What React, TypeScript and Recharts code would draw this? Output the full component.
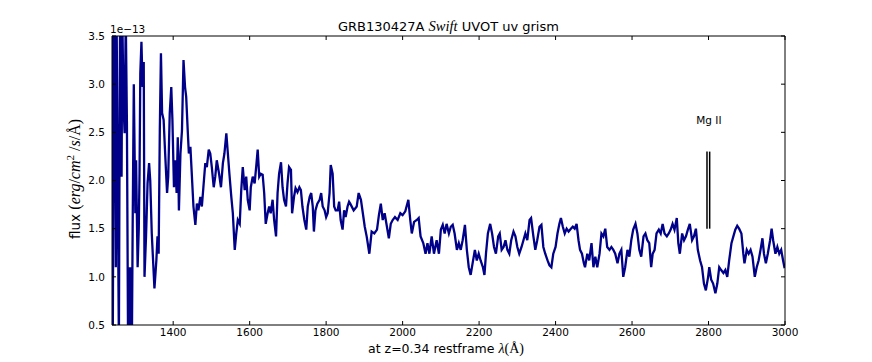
import React from 'react';
import { LineChart, Line, XAxis, YAxis, ReferenceLine, ReferenceDot } from 'recharts';

// rest-frame wavelength (Angstrom)
const wavelength = [
  1240, 1242, 1245, 1248, 1250, 1252, 1255, 1258, 1261, 1263, 1265, 1267, 1270, 1273, 1276, 1279, 1282, 1285, 1288, 1290,
  1292, 1294, 1297, 1301, 1303, 1307, 1310, 1312, 1314, 1317, 1320, 1323, 1325,
  1329, 1333, 1337, 1340, 1344, 1349, 1351, 1356, 1359, 1362, 1365, 1368, 1371, 1375, 1379, 1384, 1387, 1391, 1395, 1398,
  1402, 1405, 1409, 1412, 1415, 1419, 1423, 1427, 1431, 1434, 1438, 1441, 1445, 1449, 1453, 1458, 1462, 1466, 1471, 1475,
  1479, 1484, 1488, 1493, 1497, 1501, 1506, 1510, 1514, 1520, 1525, 1530, 1534, 1539, 1543, 1547, 1552, 1556, 1561, 1565,
  1569, 1574, 1578, 1582, 1587, 1591, 1595, 1600, 1603, 1608, 1613, 1617, 1621, 1625, 1629, 1634, 1638, 1642, 1647, 1651,
  1655, 1660, 1664, 1669, 1673, 1677, 1682, 1686, 1690, 1695, 1699, 1703, 1708, 1711, 1716, 1720, 1725, 1730, 1734, 1738,
  1743, 1748, 1752, 1757, 1761, 1765, 1768, 1772, 1777, 1783, 1787, 1791, 1796, 1800, 1804, 1809, 1812, 1817, 1821, 1825,
  1830, 1834, 1838, 1843, 1847, 1851, 1856, 1860,
  1863, 1872, 1880, 1885, 1891, 1896, 1901, 1906, 1913, 1919, 1926, 1933, 1938, 1943, 1948, 1953, 1959, 1964, 1969, 1974,
  1980, 1987, 1994, 2000, 2007, 2015, 2020, 2024, 2030, 2037, 2042, 2047, 2054, 2060, 2065, 2070, 2076, 2082, 2089, 2095,
  2100, 2105, 2110, 2115, 2121, 2126, 2131, 2136, 2142, 2147, 2152, 2157, 2163, 2168, 2173, 2178, 2183, 2189, 2194, 2199,
  2204, 2210, 2214, 2218, 2223, 2229, 2234, 2239, 2244, 2250, 2254, 2259, 2264, 2269, 2274, 2279, 2284, 2290, 2295, 2300,
  2305, 2311, 2316, 2321, 2326, 2332, 2336, 2342, 2347, 2352, 2358, 2363, 2368, 2373, 2379, 2384, 2389, 2394, 2400, 2405,
  2410, 2414, 2419, 2424, 2429, 2434, 2440, 2445, 2450, 2455, 2460, 2464, 2469, 2474,
  2477, 2483, 2488, 2494, 2499, 2504, 2509, 2515, 2520, 2525, 2530, 2535, 2541, 2546, 2551, 2556, 2562, 2567, 2572, 2577,
  2582, 2588, 2593, 2598, 2603, 2609, 2614, 2619, 2624, 2630, 2635, 2640, 2645, 2650, 2654, 2659, 2664, 2670, 2675, 2680,
  2685, 2691, 2696, 2701, 2706, 2711, 2717, 2721, 2725, 2731, 2736, 2741, 2746, 2751, 2757, 2762, 2767, 2772, 2778, 2783,
  2788, 2793, 2799, 2802, 2807, 2812, 2818, 2823, 2828, 2833, 2839, 2844, 2849, 2854, 2860, 2865, 2870, 2875, 2880, 2886,
  2891, 2894, 2900, 2905, 2910, 2915, 2921, 2926, 2931, 2936, 2941, 2945, 2950, 2955, 2961, 2965, 2969, 2975, 2980, 2985,
  2990, 2995, 2999,
];

// flux in units of 1e-13 erg/cm^2/s/A
const flux = [
  3.7, 0.3, 3.7, 3.2, 1.1, 3.7, 2.0, 0.3, 3.7, 2.5, 2.04, 3.7, 2.8, 2.49, 3.7, 2.6, 0.3, 1.1, 0.3, 1.1,
  0.3, 1.5, 3.0, 1.66, 2.21, 1.1, 1.5, 2.07, 3.11, 3.44, 2.97, 3.23, 1.0,
  1.42, 1.97, 2.18, 2.0, 1.45, 1.04, 0.88, 1.17, 1.42, 1.24, 2.52, 3.32, 2.7, 2.63, 2.28, 1.87, 2.04, 2.7, 2.97, 2.63,
  1.93, 2.21, 1.87, 2.45, 1.69, 2.28, 2.52, 3.25, 2.97, 2.87, 2.52, 2.28, 2.35, 2.04, 1.73, 1.54, 1.76, 1.69, 1.83, 1.73,
  1.93, 2.18, 2.14, 2.32, 2.28, 2.14, 1.93, 2.04, 2.21, 2.07, 1.93, 2.18, 2.28, 2.49, 2.28, 2.07, 1.83, 1.66, 1.28, 1.45,
  1.59, 1.55, 1.9, 2.14, 1.9, 2.04, 1.8, 1.69, 1.93, 2.04, 1.97, 2.14, 2.32, 2.04, 2.07, 2.06, 1.87, 1.55, 1.66, 1.73,
  1.66, 1.8, 1.59, 1.42, 1.87, 2.07, 2.19, 1.93, 1.8, 1.73, 1.97, 2.14, 2.11, 1.66, 1.83, 1.92, 1.88, 1.93, 1.9, 1.73,
  1.59, 1.49, 1.73, 1.83, 1.87, 1.73, 1.47, 1.69, 1.76, 1.8, 1.87, 1.73, 1.69, 1.62, 1.66, 1.87, 2.16, 2.07, 1.73, 1.69,
  1.69, 1.78, 1.59, 1.49, 1.69, 1.62, 1.73, 1.78,
  1.76, 1.69, 1.73, 1.87, 1.8, 1.66, 1.52, 1.42, 1.24, 1.47, 1.45, 1.49, 1.64, 1.76, 1.59, 1.66, 1.52, 1.4, 1.55, 1.59,
  1.62, 1.59, 1.66, 1.64, 1.68, 1.8, 1.59, 1.45, 1.57, 1.59, 1.61, 1.42, 1.35, 1.24, 1.35, 1.24, 1.42, 1.24, 1.38, 1.24,
  1.49, 1.54, 1.45, 1.55, 1.45, 1.52, 1.54, 1.45, 1.28, 1.35, 1.28, 1.38, 1.54, 1.28, 1.1, 1.02, 1.14, 1.28, 1.17, 1.24,
  1.17, 1.1, 1.02, 1.24, 1.45, 1.55, 1.45, 1.31, 1.24, 1.42, 1.45, 1.28, 1.31, 1.38, 1.28, 1.24, 1.38, 1.47, 1.42, 1.31,
  1.24, 1.31, 1.38, 1.45, 1.38, 1.59, 1.61, 1.42, 1.28, 1.38, 1.52, 1.54, 1.31, 1.24, 1.17, 1.12, 1.1, 1.24, 1.31, 1.45,
  1.55, 1.61, 1.52, 1.45, 1.5, 1.47, 1.5, 1.52, 1.5, 1.55, 1.38, 1.28, 1.24, 1.14,
  1.1, 1.24, 1.17, 1.35, 1.1, 1.21, 1.1, 1.24, 1.45, 1.42, 1.5, 1.31, 1.28, 1.31, 1.28, 1.24, 1.14, 1.24, 1.28, 1.0,
  1.1, 1.28, 1.21, 1.38, 1.49, 1.55, 1.45, 1.28, 1.21, 1.42, 1.45, 1.38, 1.35, 1.1, 1.24, 1.28, 1.45, 1.49, 1.45, 1.55,
  1.45, 1.42, 1.45, 1.49, 1.55, 1.49, 1.61, 1.35, 1.24, 1.45, 1.38, 1.42, 1.49, 1.55, 1.38, 1.42, 1.5, 1.28, 1.17, 1.1,
  0.93, 0.86, 1.0, 1.1, 0.97, 0.93, 0.83, 0.93, 1.1, 1.07, 1.04, 1.07, 1.0, 1.17, 1.35, 1.42, 1.49, 1.53, 1.5, 1.45,
  1.24, 1.14, 1.28, 1.24, 1.28, 1.21, 1.0, 1.1, 1.17, 1.28, 1.4, 1.24, 1.14, 1.24, 1.38, 1.5, 1.38, 1.24, 1.31, 1.24,
  1.28, 1.17, 1.09,
];

const xTicks = [1400, 1600, 1800, 2000, 2200, 2400, 2600, 2800, 3000];
const yTicks = [0.5, 1.0, 1.5, 2.0, 2.5, 3.0, 3.5];
const xDomain = [1240, 3000];
const yDomain = [0.5, 3.5];

// Mg II doublet markers
const mgLines = [2796, 2803];
const mgLow = 1.5;
const mgHigh = 2.3;
const mgLabel = 'Mg II';
const mgLabelPos = { x: 2801, y: 2.63 };

const data = wavelength.map((w, i) => ({ w, f: flux[i] }));

const TICK_FONT = { fontSize: 10.5, fill: '#000', fontFamily: 'DejaVu Sans' };

export default function App() {
  return (
    <div style={{ position: 'absolute', left: 0, top: 0, width: 872, height: 362, background: '#fff' }}>
      <LineChart width={872} height={362} data={data} margin={{ top: 35, right: 86, bottom: 0, left: 0 }}>
        <XAxis
          xAxisId="b"
          type="number"
          dataKey="w"
          domain={xDomain}
          ticks={xTicks}
          allowDataOverflow
          orientation="bottom"
          height={37}
          tickSize={-4}
          tickMargin={8}
          interval={0}
          tick={TICK_FONT}
          stroke="#000"
        />
        <XAxis
          xAxisId="t"
          type="number"
          dataKey="w"
          domain={xDomain}
          ticks={xTicks}
          allowDataOverflow
          orientation="top"
          height={1}
          tickSize={-4}
          interval={0}
          tickFormatter={() => ''}
          stroke="#000"
        />
        <YAxis
          yAxisId="l"
          type="number"
          domain={yDomain}
          ticks={yTicks}
          allowDataOverflow
          width={112}
          tickSize={-4}
          tickMargin={11}
          interval={0}
          tickFormatter={(v: number) => v.toFixed(1)}
          tick={TICK_FONT}
          stroke="#000"
        />
        <YAxis
          yAxisId="r"
          type="number"
          orientation="right"
          domain={yDomain}
          ticks={yTicks}
          allowDataOverflow
          width={1}
          tickSize={-4}
          interval={0}
          tickFormatter={() => ''}
          stroke="#000"
        />
        <Line
          xAxisId="b"
          yAxisId="l"
          dataKey="f"
          type="linear"
          stroke="#000088"
          strokeWidth={2.3}
          dot={false}
          isAnimationActive={false}
        />
        {mgLines.map((m) => (
          <ReferenceLine
            key={m}
            xAxisId="b"
            yAxisId="l"
            segment={[{ x: m, y: mgLow }, { x: m, y: mgHigh }]}
            stroke="#000"
            strokeWidth={1.5}
            ifOverflow="visible"
          />
        ))}
        <ReferenceDot
          xAxisId="b"
          yAxisId="l"
          x={mgLabelPos.x}
          y={mgLabelPos.y}
          r={0}
          fill="none"
          stroke="none"
          label={{ value: mgLabel, position: 'center', fontSize: 10.5, fill: '#000', fontFamily: 'DejaVu Sans' }}
        />
      </LineChart>
      <svg width={872} height={362} style={{ position: 'absolute', left: 0, top: 0, pointerEvents: 'none' }}>
        <text x={448.4} y={31} textAnchor="middle" fontSize={13} fontFamily="DejaVu Sans" fill="#000">
          GRB130427A{' '}
          <tspan fontFamily="Liberation Serif" fontStyle="italic" fontSize={14.5}>Swift</tspan>
          {' '}UVOT uv grism
        </text>
        <text x={110} y={33} fontSize={10.5} fontFamily="DejaVu Sans" fill="#000">1e−13</text>
        <text x={446} y={353} textAnchor="middle" fontSize={12.5} fontFamily="DejaVu Sans" fill="#000">
          at z=0.34 restframe{' '}
          <tspan fontFamily="Liberation Serif" fontSize={14}>
            <tspan fontStyle="italic">λ</tspan>(Å)
          </tspan>
        </text>
        <text
          transform="translate(80,179) rotate(-90)"
          textAnchor="middle"
          fontSize={13.5}
          fontFamily="DejaVu Sans"
          fill="#000"
        >
          flux{' '}
          <tspan fontFamily="Liberation Serif" fontSize={16}>
            (<tspan fontStyle="italic">erg</tspan>/<tspan fontStyle="italic">cm</tspan>
            <tspan fontSize={11} dy={-6}>2</tspan>
            <tspan dy={6}>{' '}/</tspan>
            <tspan fontStyle="italic">s</tspan>/Å)
          </tspan>
        </text>
      </svg>
    </div>
  );
}
